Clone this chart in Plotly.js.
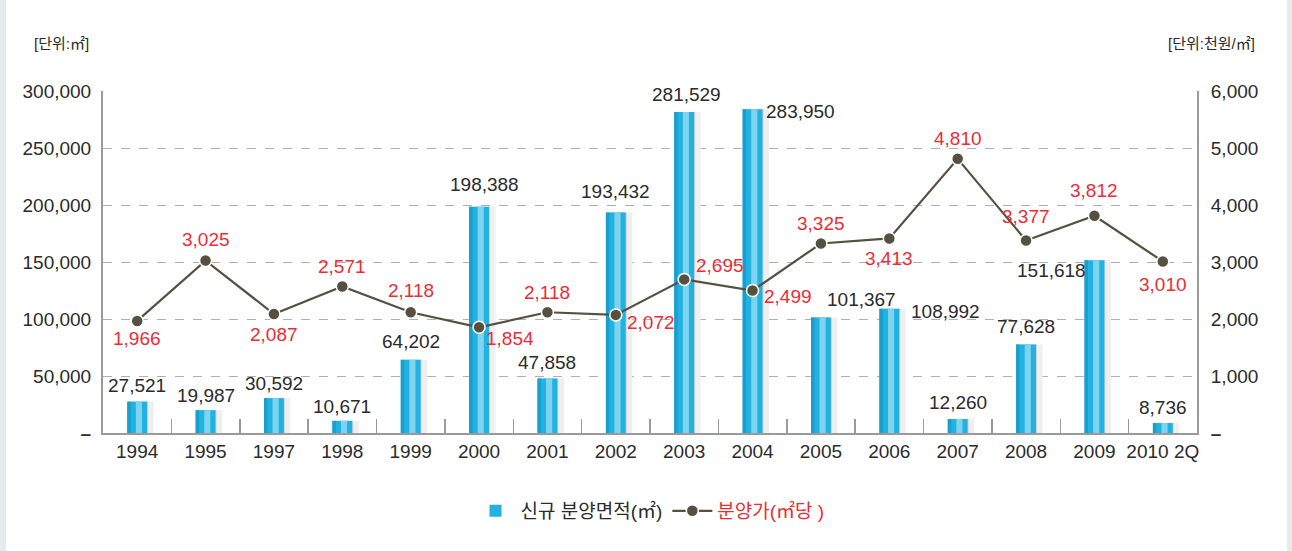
<!DOCTYPE html>
<html>
<head>
<meta charset="utf-8">
<script src="https://cdn.plot.ly/plotly-3.0.1.min.js"></script>
<style>
html,body{margin:0;padding:0;background:#fff;}
#chart{position:absolute;left:0;top:0;width:1292px;height:551px;}
.stripL{position:absolute;left:0;top:0;width:6px;height:551px;background:#e8ebeb;}
.stripR{position:absolute;right:0;top:0;width:5px;height:551px;background:#e8ebeb;}
</style>
</head>
<body>
<div id="chart"></div>
<div class="stripL"></div>
<div class="stripR"></div>
<script>
// ---- data ----
const years = ['1994','1995','1997','1998','1999','2000','2001','2002','2003','2004','2005','2006','2007','2008','2009','2010 2Q'];
const areaValues = [27521,19987,30592,10671,64202,198388,47858,193432,281529,283950,101367,108992,12260,77628,151618,8736];
const priceValues = [1966,3025,2087,2571,2118,1854,2118,2072,2695,2499,3325,3413,4810,3377,3812,3010];
const leftTickVals = [0,50000,100000,150000,200000,250000,300000];
const leftTickText = ['<b>–</b>','50,000','100,000','150,000','200,000','250,000','300,000'];
const rightTickVals = [0,1000,2000,3000,4000,5000,6000];
const rightTickText = ['<b>–</b>','1,000','2,000','3,000','4,000','5,000','6,000'];
const areaName = '신규 분양면적(㎡)';
const priceName = '분양가(㎡당 )';
const unitLeft = '[단위:㎡]';
const unitRight = '[단위:천원/㎡]';

// ---- label offsets (style) ----
const areaShift = [[0,16],[0,15],[0,15],[0,14],[0,18],[5,22],[0,16],[0,21],[2,18],[48,-2],[41,18],[56,-3],[0,17],[0,18],[-43,-10],[0,16]];
const priceShift = [[0,-18],[0,21],[0,-20],[0,20],[0,22],[31,-11],[0,20],[35,-8],[36,14],[35,-6],[0,20],[0,-20],[0,20],[0,24],[0,25],[0,-23]];

const FONT = "'Liberation Sans','Noto Sans CJK KR',sans-serif";
const RED = '#ee2b34';
const TXT = '#2b2b2b';
const fmt = v => v.toLocaleString('en-US');

const traces = [
  {type:'bar', x:years, y:areaValues, width:0.34, offset:-0.1, marker:{color:'#efefef'}, hoverinfo:'skip', showlegend:false, yaxis:'y'},
  {type:'bar', x:years, y:areaValues, width:0.26, offset:-0.1, marker:{color:'#d2d2d2'}, hoverinfo:'skip', showlegend:false, yaxis:'y'},
  {type:'bar', x:years, y:areaValues, width:0.29, offset:-0.145, marker:{color:'#22b2df'}, name:areaName, showlegend:true, yaxis:'y'},
  {type:'bar', x:years, y:areaValues, width:0.05, offset:-0.145, marker:{color:'#179fcf'}, hoverinfo:'skip', showlegend:false, yaxis:'y'},
  {type:'bar', x:years, y:areaValues, width:0.09, offset:-0.02, marker:{color:'#7ed3f0'}, hoverinfo:'skip', showlegend:false, yaxis:'y'},
  {type:'scatter', mode:'lines+markers', x:years, y:priceValues, yaxis:'y2',
   line:{color:'#55503f', width:2.2},
   marker:{color:'#55503f', size:12, line:{color:'#ffffff', width:1.5}},
   name:'<span style="color:'+RED+'">'+priceName+'</span>'}
];

const annotations = [];
years.forEach((yr,i)=>{
  annotations.push({x:i, y:areaValues[i], xref:'x', yref:'y', text:fmt(areaValues[i]), showarrow:false,
    xanchor:'center', yanchor:'middle', xshift:areaShift[i][0], yshift:areaShift[i][1],
    font:{family:FONT, size:19, color:TXT}});
  annotations.push({x:i, y:priceValues[i], xref:'x', yref:'y2', text:fmt(priceValues[i]), showarrow:false,
    xanchor:'center', yanchor:'middle', xshift:priceShift[i][0], yshift:priceShift[i][1],
    font:{family:FONT, size:19, color:RED}});
});
annotations.push({xref:'paper', yref:'paper', x:-0.065, y:1.14, xanchor:'left', yanchor:'middle', text:unitLeft, showarrow:false,
  font:{family:FONT, size:15, color:TXT}});
annotations.push({xref:'paper', yref:'paper', x:1.055, y:1.14, xanchor:'right', yanchor:'middle', text:unitRight, showarrow:false,
  font:{family:FONT, size:15, color:TXT}});

const layout = {
  width:1292, height:551,
  margin:{l:103, r:95, t:91, b:118},
  paper_bgcolor:'#ffffff', plot_bgcolor:'#ffffff',
  barmode:'overlay',
  font:{family:FONT, size:19, color:TXT},
  xaxis:{type:'category', range:[-0.5,15.5], showline:true, linecolor:'#9a9a9a', linewidth:2,
    ticks:'inside', tickson:'boundaries', ticklen:14, tickcolor:'#9a9a9a', tickwidth:1.5, tickangle:0,
    showgrid:false, zeroline:false, tickfont:{family:FONT, size:19, color:TXT}, fixedrange:true},
  yaxis:{range:[0,300000], tickvals:leftTickVals, ticktext:leftTickText, showline:true, linecolor:'#9a9a9a', linewidth:2,
    showgrid:true, gridcolor:'#b0b0b0', griddash:'dash', gridwidth:1, zeroline:false, ticks:'',
    ticklabelstandoff:6, tickfont:{family:FONT, size:19, color:TXT}},
  yaxis2:{range:[0,6000], overlaying:'y', side:'right', tickvals:rightTickVals, ticktext:rightTickText,
    showline:true, linecolor:'#9a9a9a', linewidth:2, showgrid:false, zeroline:false, ticks:'',
    ticklabelstandoff:8, tickfont:{family:FONT, size:19, color:TXT}},
  legend:{orientation:'h', x:0.5, xanchor:'center', y:-0.228, yanchor:'middle',
    font:{family:FONT, size:19, color:TXT}, itemwidth:40, bgcolor:'rgba(0,0,0,0)'},
  annotations:annotations,
  hovermode:false
};

Plotly.newPlot('chart', traces, layout, {displayModeBar:false, staticPlot:true});
</script>
</body>
</html>
